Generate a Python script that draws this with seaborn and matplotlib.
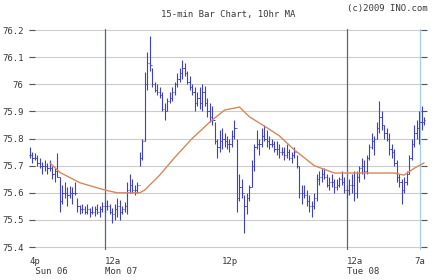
import matplotlib
matplotlib.use("Agg")
import matplotlib.pyplot as plt
import seaborn as sns
import pandas as pd
import numpy as np

# ---- data ----
bar_low = [75.73, 75.71, 75.72, 75.70, 75.69, 75.67, 75.68, 75.67, 75.68, 75.65,
           75.64, 75.66, 75.53, 75.56, 75.58, 75.55, 75.58, 75.56, 75.59, 75.53,
           75.52, 75.525, 75.52, 75.52, 75.51, 75.52, 75.515, 75.52, 75.51, 75.53,
           75.525, 75.535, 75.52, 75.49, 75.50, 75.51, 75.50, 75.52, 75.53, 75.52,
           75.60, 75.60, 75.59, 75.60, 75.70, 75.72, 75.79, 75.98, 76.05, 75.99,
           75.97, 75.96, 75.95, 75.90, 75.87, 75.90, 75.93, 75.94, 75.96, 75.99,
           76.01, 76.02, 76.03, 76.00, 75.98, 75.96, 75.90, 75.92, 75.91, 75.90,
           75.92, 75.88, 75.86, 75.85, 75.78, 75.73, 75.75, 75.76, 75.77, 75.76,
           75.75, 75.77, 75.80, 75.53, 75.57, 75.58, 75.45, 75.52, 75.57, 75.62,
           75.68, 75.76, 75.74, 75.77, 75.79, 75.77, 75.76, 75.77, 75.75, 75.74,
           75.73, 75.74, 75.72, 75.73, 75.72, 75.71, 75.73, 75.69, 75.58, 75.56,
           75.58, 75.55, 75.53, 75.51, 75.54, 75.57, 75.63, 75.64, 75.65, 75.62,
           75.61, 75.62, 75.60, 75.61, 75.62, 75.63, 75.60, 75.58, 75.59, 75.60,
           75.57, 75.58, 75.64, 75.67, 75.65, 75.67, 75.72, 75.76, 75.74, 75.80,
           75.82, 75.83, 75.80, 75.79, 75.74, 75.73, 75.70, 75.64, 75.62, 75.56,
           75.60, 75.63, 75.67, 75.72, 75.77, 75.80, 75.78, 75.83, 75.85]
bar_high = [75.77, 75.75, 75.745, 75.74, 75.73, 75.715, 75.72, 75.71, 75.72, 75.70,
            75.69, 75.745, 75.66, 75.63, 75.64, 75.62, 75.625, 75.62, 75.64, 75.58,
            75.555, 75.56, 75.55, 75.56, 75.545, 75.55, 75.55, 75.56, 75.55, 75.565,
            75.57, 75.575, 75.56, 75.545, 75.56, 75.58, 75.575, 75.55, 75.565, 75.64,
            75.67, 75.65, 75.63, 75.64, 75.75, 75.80, 76.045, 76.12, 76.18, 76.06,
            76.01, 76.00, 75.99, 75.97, 75.93, 75.95, 75.97, 75.99, 76.01, 76.04,
            76.06, 76.09, 76.08, 76.05, 76.03, 76.00, 75.99, 75.97, 75.99, 76.00,
            75.995, 75.95, 75.93, 75.92, 75.86, 75.80, 75.83, 75.84, 75.82, 75.81,
            75.80, 75.83, 75.87, 75.80, 75.67, 75.65, 75.59, 75.60, 75.63, 75.72,
            75.78, 75.83, 75.80, 75.84, 75.85, 75.83, 75.81, 75.80, 75.79, 75.79,
            75.78, 75.77, 75.77, 75.78, 75.76, 75.75, 75.77, 75.74, 75.70, 75.63,
            75.63, 75.61, 75.59, 75.57, 75.60, 75.67, 75.68, 75.69, 75.69, 75.67,
            75.66, 75.67, 75.65, 75.65, 75.66, 75.68, 75.66, 75.63, 75.65, 75.67,
            75.68, 75.68, 75.70, 75.73, 75.72, 75.74, 75.78, 75.82, 75.81, 75.86,
            75.94, 75.90, 75.85, 75.84, 75.82, 75.78, 75.76, 75.72, 75.67, 75.65,
            75.66, 75.68, 75.74, 75.80, 75.85, 75.87, 75.90, 75.92, 75.88]
bar_close = [75.74, 75.73, 75.73, 75.71, 75.70, 75.70, 75.70, 75.69, 75.69, 75.67,
             75.68, 75.66, 75.57, 75.60, 75.60, 75.59, 75.60, 75.60, 75.60, 75.55,
             75.54, 75.54, 75.53, 75.54, 75.53, 75.53, 75.54, 75.53, 75.54, 75.55,
             75.55, 75.55, 75.53, 75.52, 75.54, 75.55, 75.53, 75.54, 75.55, 75.61,
             75.63, 75.61, 75.61, 75.63, 75.73, 75.79, 76.00, 76.08, 76.07, 76.00,
             75.98, 75.97, 75.96, 75.91, 75.90, 75.94, 75.95, 75.97, 76.00, 76.02,
             76.04, 76.06, 76.04, 76.01, 75.99, 75.97, 75.93, 75.95, 75.93, 75.97,
             75.93, 75.90, 75.88, 75.87, 75.79, 75.77, 75.79, 75.80, 75.79, 75.78,
             75.78, 75.81, 75.84, 75.58, 75.62, 75.60, 75.55, 75.58, 75.62, 75.70,
             75.77, 75.78, 75.78, 75.81, 75.80, 75.79, 75.78, 75.78, 75.76, 75.76,
             75.75, 75.75, 75.74, 75.75, 75.73, 75.74, 75.75, 75.70, 75.60, 75.60,
             75.59, 75.57, 75.55, 75.55, 75.58, 75.65, 75.66, 75.67, 75.66, 75.63,
             75.64, 75.64, 75.62, 75.63, 75.65, 75.64, 75.61, 75.61, 75.63, 75.63,
             75.60, 75.66, 75.69, 75.70, 75.68, 75.73, 75.77, 75.79, 75.80, 75.84,
             75.88, 75.85, 75.82, 75.80, 75.76, 75.75, 75.71, 75.66, 75.64, 75.61,
             75.64, 75.67, 75.73, 75.78, 75.82, 75.84, 75.86, 75.86, 75.87]

ma_bar = [8, 12, 20, 30, 35, 44, 46, 52, 58, 65, 72, 78, 84, 88, 95, 100, 106,
          114, 122, 135, 146, 150, 154, 158]
ma_value = [75.71, 75.675, 75.637, 75.61, 75.60, 75.60, 75.61, 75.665, 75.73, 75.80,
            75.86, 75.905, 75.916, 75.88, 75.84, 75.81, 75.758, 75.70, 75.673,
            75.673, 75.673, 75.665, 75.69, 75.71]

y_ticks = [75.4, 75.5, 75.6, 75.7, 75.8, 75.9, 76.0, 76.1, 76.2]
y_labels = ["75.4", "75.5", "75.6", "75.7", "75.8", "75.9", "76", "76.1", "76.2"]
x_tick_bar = [0, 30, 77, 127, 156.4]
x_labels = ["4p\n Sun 06", "12a\nMon 07", "12p", "12a\nTue 08", "7a"]

# ---- build ----
sns.set_style("white")
plt.rcParams["font.family"] = ["DejaVu Sans Mono", "DejaVu Sans"]

n = len(bar_close)
df = pd.DataFrame({"bar": np.arange(n), "low": bar_low, "high": bar_high,
                   "close": bar_close})
df["open"] = df["close"].shift(1).fillna(df["close"])
ma_df = pd.DataFrame({"bar": ma_bar, "ma": ma_value})

fig = plt.figure(figsize=(4.33, 2.80), dpi=100)
ax = fig.add_axes([29 / 433, 30 / 280, 398 / 433, 221 / 280])

txt_col = "#3a3a3a"
grid_col = "#cccccc"
bar_col = "#4040c4"

ax.set_ylim(75.389, 76.204)
ax.set_xlim(-0.4, 159.2)
ax.set_yticks(y_ticks)
ax.set_yticklabels(y_labels)
for y in y_ticks:
    ax.axhline(y, color=grid_col, lw=0.8, zorder=0)

# session separator lines
ax.axvline(x_tick_bar[1], color="#4d6b85", lw=0.9, zorder=1)
ax.axvline(x_tick_bar[3], color="#4d6b85", lw=0.9, zorder=1)
ax.axvline(x_tick_bar[4], color="#a6cbe8", lw=0.9, zorder=1)

# OHLC bars
ax.vlines(df["bar"], df["low"], df["high"], color=bar_col, lw=0.8, zorder=3)
ax.hlines(df["open"], df["bar"] - 0.45, df["bar"], color=bar_col, lw=0.7, zorder=3)
ax.hlines(df["close"], df["bar"], df["bar"] + 0.45, color=bar_col, lw=0.7, zorder=3)

# moving average
sns.lineplot(data=ma_df, x="bar", y="ma", ax=ax, color="#d9875a", lw=1.0,
             zorder=4, legend=False)

for s in ax.spines.values():
    s.set_visible(False)

ax.set_xticks(x_tick_bar)
ax.set_xticklabels(x_labels)
ax.tick_params(axis="x", length=0, pad=5, labelsize=6.5, colors=txt_col)
ax.tick_params(axis="y", length=4, direction="in", color="#555555", width=0.8,
               pad=4, labelsize=6.5, colors=txt_col, right=True, left=True)
for i, lab in enumerate(ax.get_xticklabels()):
    lab.set_horizontalalignment("left" if i < 4 else "center")
    lab.set_multialignment("left")
ax.set_xlabel("")
ax.set_ylabel("")
ax.grid(False)

fig.text(228 / 433, 1 - 15 / 280, "15-min Bar Chart, 10hr MA", ha="center",
         va="center", fontsize=6.5, color=txt_col)
fig.text(428 / 433, 1 - 8 / 280, "(c)2009 INO.com", ha="right", va="center",
         fontsize=6.5, color=txt_col)

fig.savefig("out.png", dpi=100, facecolor="white")
